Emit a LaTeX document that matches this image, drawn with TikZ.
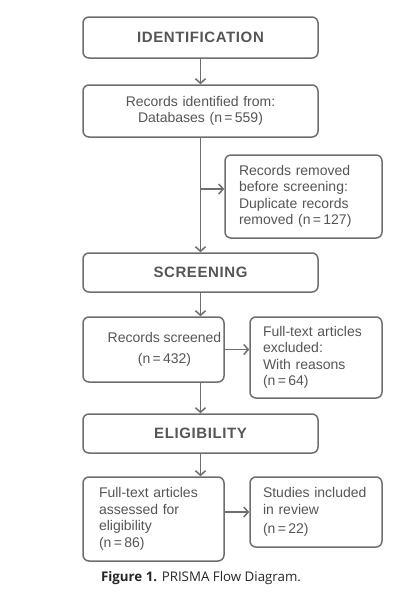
\documentclass[tikz,border=0pt]{standalone}
\usepackage{fontspec}
\setmainfont{Liberation Sans}
\newfontfamily\headfont[LetterSpace=4]{Liberation Sans}
\newfontfamily\capfont{Open Sans}
\usetikzlibrary{arrows.meta}
\definecolor{boxgray}{HTML}{6E6E6E}
\definecolor{txtgray}{HTML}{555555}
\tikzset{
	stagebox/.style={draw=boxgray, line width=1.5pt, rounded corners=6pt, minimum width=235pt, inner sep=0pt, text=txtgray, font=\headfont\bfseries\fontsize{15}{18}\selectfont},
	infobox/.style={draw=boxgray, line width=1.5pt, rounded corners=6pt, inner sep=0pt, text=txtgray, align=left, font=\fontsize{14}{16.5}\selectfont},
	flowarrow/.style={draw=boxgray, line width=1.5pt, -{Straight Barb[length=4.5pt,width=10pt]}}
}

\begin{document}
\begin{tikzpicture}[x=1pt, y=-1pt]
			%%%%% START %%%%%
			
			\useasboundingbox (0, 0) rectangle (413, 598);
			
			\node[stagebox, minimum height=41pt] (ident) at (200.5, 37.5) {IDENTIFICATION};
			\node[infobox, align=center, minimum width=235pt, minimum height=52pt, text width=220pt] (found) at (200.5, 111) {Records identified from:\\Databases (n\,=\,559)};
			\node[infobox, minimum width=157pt, minimum height=83pt, text width=129pt] (removed) at (303.5, 196.5) {Records removed\\before screening:\\Duplicate records\\removed (n\,=\,127)};
			
			\node[stagebox, minimum height=39pt] (screen) at (200.5, 272.5) {SCREENING};
			\node[infobox, align=center, minimum width=141pt, minimum height=65pt] (screened) at (153.5, 349.5) {\hspace*{22pt}Records screened\\[4.5pt]\hspace*{22pt}(n\,=\,432)};
			\node[infobox, minimum width=132pt, minimum height=81pt, text width=106pt] (excluded) at (316, 357.5) {Full-text articles\\excluded:\\With reasons\\(n\,=\,64)};
			
			\node[stagebox, minimum height=39pt] (elig) at (200.5, 433.5) {ELIGIBILITY};
			\node[infobox, minimum width=141pt, minimum height=84pt, text width=109pt] (assessed) at (153.5, 519) {Full-text articles\\assessed for\\eligibility\\(n\,=\,86)};
			\node[infobox, minimum width=132pt, minimum height=70pt, text width=106pt] (included) at (316, 512) {Studies included\\in review\\[2.5pt](n\,=\,22)};
			
			\node[font=\capfont\fontsize{13.3}{16}\selectfont, text=black!85] (caption) at (201, 578) {\textbf{Figure 1.} PRISMA Flow Diagram.};
			
			% arrows
			\coordinate (split) at (found.south |- 0, 189);
			\draw[flowarrow] (ident.south) -- (found.north);
			\draw[flowarrow] (found.south) -- (screen.north);
			\draw[flowarrow] (split) -- (split -| removed.west);
			\draw[flowarrow] (screen.south) -- (screen.south |- screened.north);
			\draw[flowarrow] (screened.east) -- (screened.east -| excluded.west);
			\draw[flowarrow] (screen.south |- screened.south) -- (elig.north);
			\draw[flowarrow] (elig.south) -- (elig.south |- assessed.north);
			\draw[flowarrow] (assessed.east |- included.west) -- (included.west);
			
			%%%%% END %%%%%
\end{tikzpicture}
\end{document}
